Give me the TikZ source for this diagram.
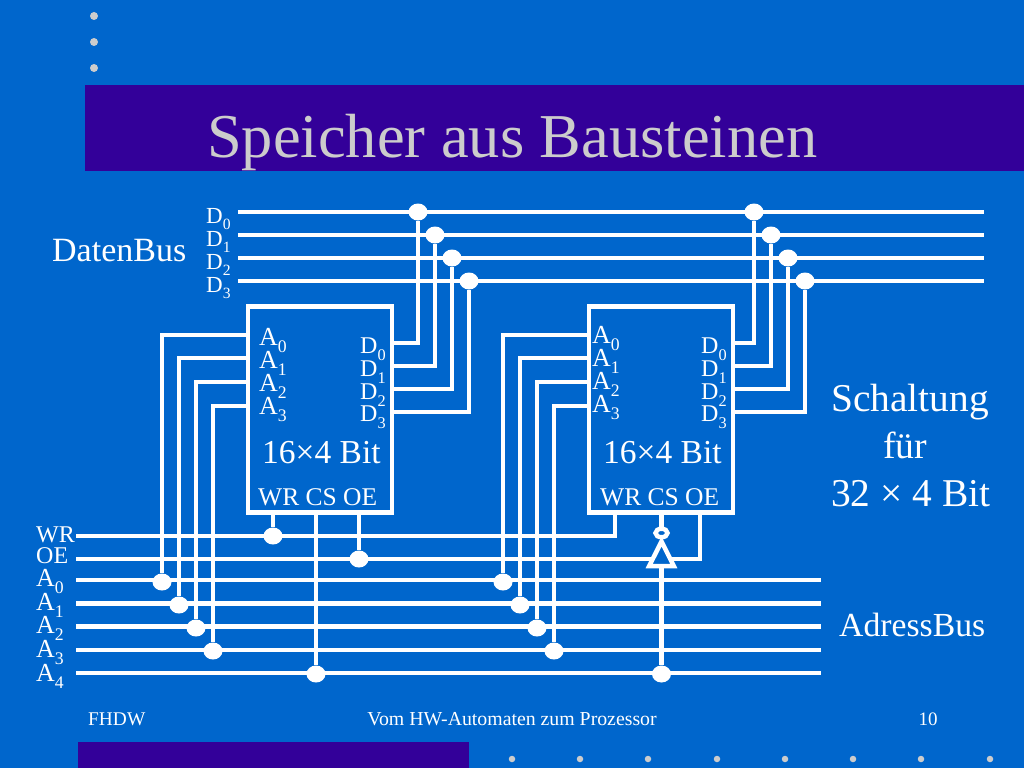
\documentclass[tikz,border=0pt]{standalone}
\usepackage{fontspec}
\setmainfont{Liberation Serif}
\usetikzlibrary{shapes.geometric}
\definecolor{bgblue}{HTML}{0066CC}
\definecolor{banner}{HTML}{330099}
\definecolor{titlegray}{HTML}{CCCCCC}
\newcommand{\fsz}[1]{\fontsize{#1}{#1}\selectfont}
\newcommand{\lab}[2]{#1\raisebox{-0.3em}{\fontsize{0.68em}{0.68em}\selectfont #2}}
\tikzset{
  wire/.style={draw=white,line width=4.5pt},
  joint/.style={ellipse,fill=white,minimum width=19pt,minimum height=17pt,inner sep=0pt},
  chip/.style={rectangle,draw=white,line width=4.5pt,minimum width=144pt,minimum height=206pt,inner sep=0pt},
  txt/.style={anchor=base west,inner sep=0pt,text=white},
  ctxt/.style={anchor=base,inner sep=0pt,text=white},
  deco/.style={circle,fill=titlegray,inner sep=0pt,minimum size=8pt},
}
\begin{document}
\begin{tikzpicture}[x=1pt,y=-1pt]
\useasboundingbox (0,0) rectangle (1024,768);
\fill[bgblue] (0,0) rectangle (1024,768);
\fill[banner] (85,85) rectangle (1024,171);
\fill[banner] (78,742) rectangle (469,768);
\foreach \y [count=\i] in {16,42,68} \node[deco] (topdot\i) at (94,\y) {};
\foreach \x [count=\i] in {512,580,648,717,785,853,921,990} \node[deco,minimum size=6.5pt] (botdot\i) at (\x,759) {};
\node[anchor=base west,inner sep=0pt,text=titlegray] (title) at (207,157) {\fsz{62.4}Speicher aus Bausteinen};

% chips
\node[chip] (chipa) at (320,409.5) {};
\node[chip] (chipb) at (661,409.5) {};

% data bus
\foreach \n/\y in {0/212,1/235,2/258,3/281}{
  \coordinate (dl\n) at (238,\y);
  \coordinate (dr\n) at (984,\y);
  \draw[wire] (dl\n) -- (dr\n);
}
% address and control bus
\foreach \n/\y in {0/580,1/603.5,2/626.5,3/650,4/673}{
  \coordinate (al\n) at (76,\y);
  \coordinate (ar\n) at (821,\y);
  \draw[wire] (al\n) -- (ar\n);
}
\coordinate (wrl) at (76,536);
\coordinate (oel) at (76,559);
\node[joint] (wra) at (273,536) {};
\node[joint] (oea) at (359,559) {};
\node[joint] (csa) at (316,674) {};
\node[joint] (csb) at (661.5,674) {};
\coordinate (wrt) at (273,513);
\coordinate (oet) at (359,513);
\coordinate (cst) at (316,513);
\coordinate (wrbt) at (615,513);
\coordinate (wrb) at (615,536);
\coordinate (oebt) at (700,513);
\coordinate (oeb) at (700,559);
\coordinate (csbt) at (661.5,513);

% inverter
\node[ellipse,draw=white,line width=4.5pt,fill=bgblue,minimum width=12pt,minimum height=8.5pt,inner sep=0pt] (bubble) at (661.5,533) {};
\draw[wire,line join=miter,fill=bgblue] (661.5,541.5) coordinate (apex) -- (673.8,566) coordinate (baser) -- (649.2,566) coordinate (basel) -- cycle;
\coordinate (basem) at (661.5,566);
\coordinate (oemidl) at (653,559);
\coordinate (oemidr) at (670,559);

\draw[wire,line join=miter] (wrl) -- (wrb) -- (wrbt);
\draw[wire] (wra) -- (wrt);
\draw[wire] (oel) -- (oemidl);
\draw[wire,line join=miter] (oemidr) -- (oeb) -- (oebt);
\draw[wire] (oea) -- (oet);
\draw[wire] (csa) -- (cst);
\draw[wire] (csbt) -- (bubble);
\draw[wire] (basem) -- (csb);

% address wiring
\foreach \n/\x/\ya/\yb/\xb in {0/162/335/582/503,1/179/358/605/520,2/196/382/628/537,3/213/406/651/554}{
  \node[joint] (aja\n) at (\x,\yb) {};
  \node[joint] (ajb\n) at (\xb,\yb) {};
  \coordinate (aia\n) at (247,\ya);
  \coordinate (aib\n) at (588,\ya);
  \draw[wire,line join=miter] (aja\n) |- (aia\n);
  \draw[wire,line join=miter] (ajb\n) |- (aib\n);
}
% data wiring
\foreach \n/\x/\y/\yb/\xb in {0/418/343/212/754,1/435/366/235/771,2/452/389/258/788,3/469/412/281/805}{
  \node[joint] (dja\n) at (\x,\yb) {};
  \node[joint] (djb\n) at (\xb,\yb) {};
  \coordinate (doa\n) at (392,\y);
  \coordinate (dob\n) at (733,\y);
  \draw[wire,line join=miter] (doa\n) -| (dja\n);
  \draw[wire,line join=miter] (dob\n) -| (djb\n);
}

% labels
\foreach \n/\y in {0/223,1/246,2/269,3/292}
  \node[txt] (busd\n) at (206,\y) {\fsz{23}\lab{D}{\n}};
\node[txt] (datenbus) at (52,261) {\fsz{34}DatenBus};
\foreach \n/\y in {0/345,1/368,2/391,3/414}
  \node[txt] (aa\n) at (259,\y) {\fsz{26}\lab{A}{\n}};
\foreach \n/\y in {0/343,1/366,2/389,3/412}
  \node[txt] (ab\n) at (592,\y) {\fsz{26}\lab{A}{\n}};
\foreach \n/\y in {0/353,1/376,2/399,3/421}{
  \node[txt] (oa\n) at (360,\y) {\fsz{24}\lab{D}{\n}};
  \node[txt] (ob\n) at (701,\y) {\fsz{24}\lab{D}{\n}};
}
\node[txt] (sizea) at (262,463) {\fsz{33.5}16×4 Bit};
\node[txt] (sizeb) at (603,463) {\fsz{33.5}16×4 Bit};
\node[txt] (ctla) at (258,505) {\fsz{25.5}WR CS OE};
\node[txt] (ctlb) at (600,505) {\fsz{25.5}WR CS OE};
\node[txt] (lwr) at (36,542) {\fsz{24}WR};
\node[txt] (loe) at (36,563) {\fsz{24}OE};
\foreach \n/\y in {0/586,1/610,2/633,3/657,4/681}
  \node[txt] (busa\n) at (36,\y) {\fsz{26}\lab{A}{\n}};
\node[txt] (sch) at (831,411) {\fsz{39.4}Schaltung};
\node[ctxt] (fuer) at (905,458) {\fsz{37.7}für};
\node[txt] (bits) at (831,506) {\fsz{39.4}32 × 4 Bit};
\node[txt] (adr) at (839,636) {\fsz{33.7}AdressBus};
\node[txt] (ffh) at (88,725) {\fsz{19.4}FHDW};
\node[ctxt] (fft) at (512,725) {\fsz{19.8}Vom HW-Automaten zum Prozessor};
\node[ctxt] (ffn) at (928,725) {\fsz{19}10};
\end{tikzpicture}
\end{document}
